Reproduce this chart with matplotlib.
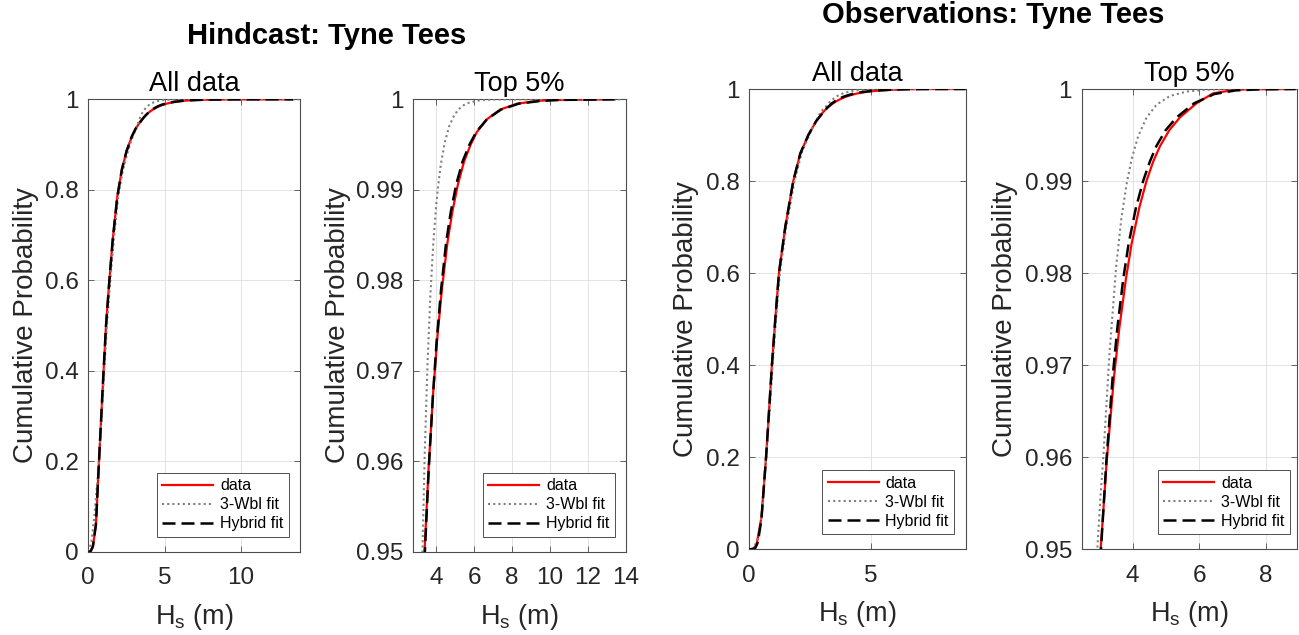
import matplotlib
matplotlib.use('Agg')
import matplotlib.pyplot as plt

plt.rcParams['font.family'] = ['Liberation Sans', 'DejaVu Sans']
plt.rcParams['mathtext.fontset'] = 'custom'
plt.rcParams['mathtext.rm'] = 'Liberation Sans'
plt.rcParams['mathtext.it'] = 'Liberation Sans:italic'
plt.rcParams['mathtext.bf'] = 'Liberation Sans:bold'

# ---------------- data ----------------
series_labels = ['data', '3-Wbl fit', 'Hybrid fit']

# Hindcast: Tyne Tees
hind_data_hs = [0.10, 0.30, 0.50, 0.70, 0.85, 1.00, 1.16, 1.38, 1.60, 1.90, 2.20, 2.50, 2.85,
                3.10, 3.39, 3.61, 3.83, 4.05, 4.30, 4.60, 4.85, 5.15, 5.47, 5.82, 6.15, 6.68,
                7.38, 8.27, 9.33, 10.0, 13.4]
hind_data_p = [0.000, 0.010, 0.060, 0.200, 0.300, 0.400, 0.500, 0.600, 0.690, 0.785, 0.845, 0.885,
               0.918, 0.935, 0.950, 0.9594, 0.9671, 0.9733, 0.9789, 0.9842, 0.9875, 0.9906,
               0.9931, 0.9950, 0.9964, 0.9978, 0.99887, 0.999515, 0.99982, 0.99991, 1.0]

hind_wbl_hs = [0.00, 0.20, 0.40, 0.70, 1.05, 1.22, 1.44, 1.67, 1.96, 2.25, 2.55, 2.85, 3.08,
               3.28, 3.40, 3.55, 3.70, 3.85, 4.00, 4.09, 4.25, 4.45, 4.69, 4.95, 5.18, 5.45,
               5.75, 6.20, 6.70, 7.20, 13.86]
hind_wbl_p = [0.000, 0.020, 0.080, 0.200, 0.400, 0.500, 0.600, 0.690, 0.785, 0.840, 0.880, 0.912,
              0.932, 0.950, 0.9607, 0.9709, 0.9784, 0.9840, 0.98815, 0.9901, 0.99281, 0.99518,
              0.99702, 0.99823, 0.99888, 0.99935, 0.99964, 0.999855, 0.99995, 0.99998, 1.0]

hind_hyb_hs = [0.00, 0.15, 0.30, 0.50, 0.70, 0.85, 1.00, 1.16, 1.38, 1.60, 1.90, 2.20, 2.50,
               2.85, 3.10, 3.41, 3.62, 3.83, 4.03, 4.26, 4.53, 4.77, 5.06, 5.39, 5.76, 6.12,
               6.68, 7.42, 8.35, 9.50, 10.5, 13.4]
hind_hyb_p = [0.000, 0.000, 0.012, 0.060, 0.200, 0.300, 0.400, 0.500, 0.600, 0.690, 0.785, 0.845,
              0.885, 0.918, 0.935, 0.950, 0.9594, 0.9671, 0.9733, 0.9789, 0.9842, 0.9875, 0.9906,
              0.9931, 0.9950, 0.9964, 0.9978, 0.99887, 0.999515, 0.99982, 0.99993, 1.0]

# Observations: Tyne Tees
obs_data_hs = [0.15, 0.30, 0.50, 0.69, 0.80, 0.93, 1.07, 1.22, 1.48, 1.81, 2.10, 2.43, 2.75,
               3.04, 3.22, 3.44, 3.60, 3.80, 3.97, 4.20, 4.42, 4.62, 4.82, 5.10, 5.42, 5.92,
               6.42, 7.03, 7.50, 8.90]
obs_data_p = [0.000, 0.010, 0.070, 0.200, 0.290, 0.400, 0.500, 0.600, 0.700, 0.800, 0.860, 0.900,
              0.930, 0.950, 0.9595, 0.9687, 0.9740, 0.9794, 0.9832, 0.9871, 0.99005, 0.99213,
              0.99377, 0.99551, 0.99691, 0.99845, 0.99953, 0.99989, 0.99998, 1.0]

obs_wbl_hs = [0.10, 0.30, 0.50, 0.70, 0.96, 1.10, 1.26, 1.52, 1.86, 2.15, 2.47, 2.74, 2.94,
              3.03, 3.12, 3.30, 3.50, 3.66, 3.82, 3.97, 4.17, 4.42, 4.72, 5.12, 5.62, 6.23,
              6.80, 8.94]
obs_wbl_p = [0.000, 0.015, 0.070, 0.200, 0.400, 0.500, 0.600, 0.700, 0.800, 0.860, 0.900, 0.930,
             0.950, 0.9555, 0.960, 0.971, 0.9805, 0.9859, 0.9897, 0.9924, 0.9949, 0.9969,
             0.9983, 0.99924, 0.99972, 0.99992, 0.99998, 1.0]

obs_hyb_hs = [0.00, 0.23, 0.35, 0.50, 0.69, 0.80, 0.93, 1.07, 1.22, 1.48, 1.81, 2.10, 2.43,
              2.75, 3.05, 3.21, 3.40, 3.54, 3.72, 3.88, 4.10, 4.32, 4.52, 4.71, 4.99, 5.32,
              5.85, 6.45, 7.10, 7.80, 8.90]
obs_hyb_p = [0.000, 0.001, 0.015, 0.065, 0.200, 0.290, 0.400, 0.500, 0.600, 0.700, 0.800, 0.860,
             0.900, 0.930, 0.950, 0.9595, 0.9687, 0.9740, 0.9794, 0.9832, 0.9871, 0.99005,
             0.99213, 0.99377, 0.99551, 0.99691, 0.99845, 0.99945, 0.99985, 0.99996, 1.0]

all_yticks = [0, 0.2, 0.4, 0.6, 0.8, 1.0]
all_yticklabels = ['0', '0.2', '0.4', '0.6', '0.8', '1']
top_yticks = [0.95, 0.96, 0.97, 0.98, 0.99, 1.0]
top_yticklabels = ['0.95', '0.96', '0.97', '0.98', '0.99', '1']
hind_all_xticks = [0, 5, 10]
hind_top_xticks = [4, 6, 8, 10, 12, 14]
obs_all_xticks = [0, 5]
obs_top_xticks = [4, 6, 8]

# ---------------- figure ----------------
W, H = 1299, 635
fig = plt.figure(figsize=(W / 100, H / 100), dpi=100)

TXT = '#262626'
AXC = '#4d4d4d'


def add_ax(l, t, r, b):
    return fig.add_axes([l / W, 1 - b / H, (r - l) / W, (b - t) / H])


def panel(box, curves, xlim, ylim, xticks, yticks, yticklabels, title, ylab_px, leg_rb):
    l, t, r, b = box
    ax = add_ax(l, t, r, b)
    (hs_d, p_d), (hs_w, p_w), (hs_h, p_h) = curves
    ax.plot(hs_d, p_d, color='red', lw=1.6, label=series_labels[0], zorder=3)
    ax.plot(hs_w, p_w, color=(0.5, 0.5, 0.5), lw=1.5, ls=(0, (1, 1.5)),
            label=series_labels[1], zorder=4)
    ax.plot(hs_h, p_h, color='black', lw=1.8, ls=(0, (5.2, 2.4)),
            label=series_labels[2], zorder=5)
    ax.set_xlim(*xlim)
    ax.set_ylim(*ylim)
    ax.set_xticks(xticks)
    ax.set_xticklabels([str(v) for v in xticks])
    ax.set_yticks(yticks)
    ax.set_yticklabels(yticklabels)
    ax.grid(True, color='#dedede', lw=0.6)
    ax.set_axisbelow(True)
    for s in ax.spines.values():
        s.set_color(AXC)
        s.set_linewidth(0.8)
    ax.tick_params(direction='in', length=4, width=0.6, top=True, right=True,
                   labelsize=17.5, color=AXC, labelcolor=TXT)
    ax.tick_params(axis='x', pad=11)
    ax.tick_params(axis='y', pad=7)
    ax.set_title(title, fontsize=19.5, pad=6, color='black')
    ax.set_ylabel('Cumulative Probability', fontsize=20, color=TXT)
    ax.yaxis.set_label_coords((ylab_px - l) / (r - l), 0.5)
    ax.set_xlabel(r'$\mathrm{H_s}$ (m)', fontsize=19.5, color=TXT)
    ax.xaxis.set_label_coords(0.5, -50.0 / (b - t))
    leg = ax.legend(loc='lower right', bbox_to_anchor=(leg_rb[0] / W, 1 - leg_rb[1] / H),
                    bbox_transform=fig.transFigure, borderaxespad=0, fontsize=11.5,
                    handlelength=3.2, handletextpad=0.42, labelspacing=0.25,
                    borderpad=0.35, fancybox=False, framealpha=1, edgecolor='#333333')
    leg.get_frame().set_linewidth(0.6)
    return ax


hind = [(hind_data_hs, hind_data_p), (hind_wbl_hs, hind_wbl_p), (hind_hyb_hs, hind_hyb_p)]
obs = [(obs_data_hs, obs_data_p), (obs_wbl_hs, obs_wbl_p), (obs_hyb_hs, obs_hyb_p)]

panel((88.3, 99.3, 300, 551.7), hind, (0, 13.86), (0, 1), hind_all_xticks,
      all_yticks, all_yticklabels, 'All data', 39, (289, 536.7))
panel((413.3, 99.3, 626, 551.7), hind, (2.8, 13.95), (0.95, 1), hind_top_xticks,
      top_yticks, top_yticklabels, 'Top 5%', 351, (615, 536.7))
panel((749.3, 89, 966, 549.3), obs, (0, 8.92), (0, 1), obs_all_xticks,
      all_yticks, all_yticklabels, 'All data', 699, (954.3, 534.3))
panel((1081.7, 89, 1297, 549.3), obs, (2.47, 8.94), (0.95, 1), obs_top_xticks,
      top_yticks, top_yticklabels, 'Top 5%', 1018, (1290, 534.3))

fig.text(327 / W, 1 - 44 / H, 'Hindcast: Tyne Tees', fontsize=21, fontweight='bold',
         ha='center', va='baseline')
fig.text(993 / W, 1 - 22.7 / H, 'Observations: Tyne Tees', fontsize=21, fontweight='bold',
         ha='center', va='baseline')

fig.savefig('out.png', dpi=100)
